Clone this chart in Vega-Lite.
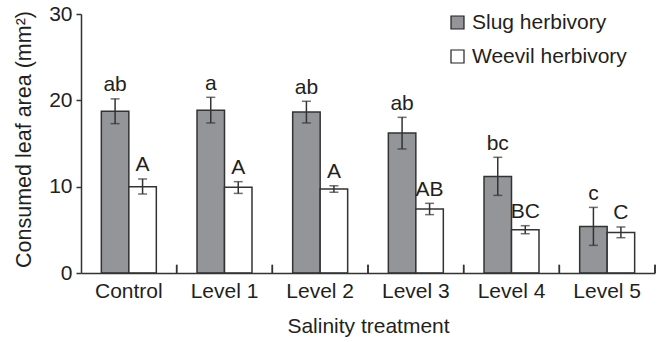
{
  "$schema": "https://vega.github.io/schema/vega-lite/v6.json",
  "width": 574,
  "height": 259,
  "autosize": {"type": "none"},
  "padding": {"left": 81, "top": 14, "right": 2, "bottom": 69},
  "background": "white",
  "config": {
    "font": "Liberation Sans",
    "view": {"stroke": null},
    "axis": {"labelFont": "Liberation Sans", "titleFont": "Liberation Sans", "labelColor": "#231f20", "titleColor": "#231f20", "labelFontSize": 21, "titleFontSize": 21, "titleFontWeight": "normal", "domainColor": "#333333", "tickColor": "#333333", "domainWidth": 1.5, "tickWidth": 1.5, "grid": false},
    "legend": {"labelFont": "Liberation Sans", "labelFontSize": 21, "labelColor": "#231f20"}
  },
  "data": {"values": [
    {"level": "Control", "herb": "Slug herbivory", "mean": 18.73, "lo": 17.3, "hi": 20.17, "letter": "ab"},
    {"level": "Control", "herb": "Weevil herbivory", "mean": 10.0, "lo": 9.15, "hi": 10.89, "letter": "A"},
    {"level": "Level 1", "herb": "Slug herbivory", "mean": 18.84, "lo": 17.38, "hi": 20.35, "letter": "a"},
    {"level": "Level 1", "herb": "Weevil herbivory", "mean": 9.92, "lo": 9.22, "hi": 10.58, "letter": "A"},
    {"level": "Level 2", "herb": "Slug herbivory", "mean": 18.66, "lo": 17.38, "hi": 19.89, "letter": "ab"},
    {"level": "Level 2", "herb": "Weevil herbivory", "mean": 9.73, "lo": 9.34, "hi": 10.12, "letter": "A"},
    {"level": "Level 3", "herb": "Slug herbivory", "mean": 16.22, "lo": 14.37, "hi": 18.03, "letter": "ab"},
    {"level": "Level 3", "herb": "Weevil herbivory", "mean": 7.42, "lo": 6.76, "hi": 8.07, "letter": "AB"},
    {"level": "Level 4", "herb": "Slug herbivory", "mean": 11.19, "lo": 8.99, "hi": 13.4, "letter": "bc"},
    {"level": "Level 4", "herb": "Weevil herbivory", "mean": 5.02, "lo": 4.55, "hi": 5.48, "letter": "BC"},
    {"level": "Level 5", "herb": "Slug herbivory", "mean": 5.4, "lo": 3.2, "hi": 7.6, "letter": "c"},
    {"level": "Level 5", "herb": "Weevil herbivory", "mean": 4.7, "lo": 4.09, "hi": 5.33, "letter": "C"}
  ]},
  "encoding": {
    "x": {"field": "level", "type": "nominal", "sort": null, "scale": {"paddingInner": 0, "paddingOuter": 0},
      "axis": {"title": "Salinity treatment", "labelAngle": 0, "ticks": false, "labelPadding": 7, "titlePadding": 14, "zindex": 1}},
    "xOffset": {"field": "herb", "type": "nominal", "sort": null, "scale": {"paddingInner": 0, "paddingOuter": 0.74}}
  },
  "layer": [
    {
      "mark": {"type": "bar", "stroke": "#333333", "strokeWidth": 1.5},
      "encoding": {
        "y": {"field": "mean", "type": "quantitative", "scale": {"domain": [0, 30], "nice": false},
          "axis": {"values": [0, 10, 20, 30], "tickSize": 5, "labelPadding": 4, "title": "Consumed leaf area (mm²)", "titleFontSize": 21.5, "titleAngle": -90, "titleX": -57, "titleY": 125, "titleAlign": "center", "titleBaseline": "middle", "zindex": 1}},
        "fill": {"field": "herb", "type": "nominal", "sort": null,
          "scale": {"domain": ["Slug herbivory", "Weevil herbivory"], "range": ["#939598", "#ffffff"]},
          "legend": {"title": null, "orient": "none", "legendX": 366, "legendY": -2, "padding": 0, "symbolType": "square", "symbolSize": 169, "symbolStrokeColor": "#231f20", "symbolStrokeWidth": 1.2, "symbolOpacity": 1, "labelOffset": 4, "rowPadding": 12}}
      }
    },
    {
      "mark": {"type": "rule", "color": "#333333", "strokeWidth": 1.5},
      "encoding": {
        "x": {"field": "level", "type": "nominal", "sort": null, "bandPosition": 1},
        "xOffset": null,
        "y": {"datum": 0, "type": "quantitative"},
        "y2": {"datum": 0.95}
      }
    },
    {
      "mark": {"type": "rule", "color": "#333333", "strokeWidth": 1.5},
      "encoding": {"y": {"field": "lo", "type": "quantitative"}, "y2": {"field": "hi"}}
    },
    {
      "mark": {"type": "tick", "color": "#333333", "thickness": 1.5, "size": 9, "orient": "horizontal"},
      "encoding": {"y": {"field": "lo", "type": "quantitative"}}
    },
    {
      "mark": {"type": "tick", "color": "#333333", "thickness": 1.5, "size": 9, "orient": "horizontal"},
      "encoding": {"y": {"field": "hi", "type": "quantitative"}}
    },
    {
      "mark": {"type": "text", "fontSize": 21, "color": "#231f20", "baseline": "alphabetic", "dy": -7.5, "font": "Liberation Sans"},
      "encoding": {"y": {"field": "hi", "type": "quantitative"}, "text": {"field": "letter"}}
    }
  ]
}
